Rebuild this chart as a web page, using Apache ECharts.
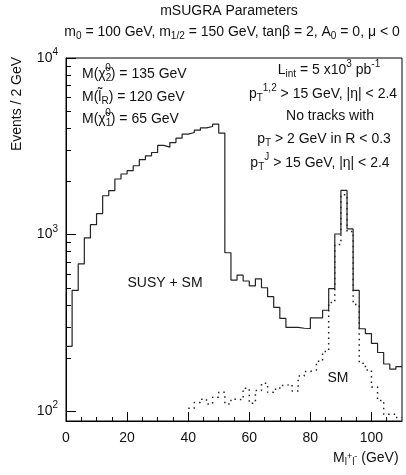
<!DOCTYPE html>
<html>
<head>
<meta charset="utf-8">
<script src="https://cdn.jsdelivr.net/npm/echarts@6/dist/echarts.min.js"></script>
<style>
  html, body { margin: 0; padding: 0; background: #fff; }
  #chart { width: 406px; height: 475px; }
</style>
</head>
<body>
<div id="chart"></div>
<script>
// histogram bins are 2 GeV wide, values given from the lower edge
var binWidth = 2;
var susyStart = 0;   // SUSY + SM, 0..110 GeV
var susySM = [233, 483, 683, 957, 1138, 1315, 1660, 1775, 2065, 2203,
  2300, 2454, 2655, 2793, 2917, 3199, 3126, 3321, 3514, 3706,
  3784, 3900, 4025, 4093, 4222, 3756, 789, 553, 589, 546,
  512, 562, 500, 445, 387, 335, 298, 298, 295, 294,
  338, 338, 373, 495, 1008, 1778, 1077, 483, 293, 275,
  242, 215, 185, 173, 179];
var smStart = 40;    // SM only, 40..110 GeV
var smOnly = [104, 112, 117, 110, 120, 128, 110, 117, 116, 135,
  111, 131, 144, 128, 133, 140, 142, 130, 158, 168,
  171, 192, 218, 413, 878, 1683, 1040, 402, 187, 171,
  137, 115, 96, 96, 92];

var xMajorTicks = [0, 20, 40, 60, 80, 100];
var xMinorTicks = [5, 10, 15, 25, 30, 35, 45, 50, 55, 65, 70, 75, 85, 90, 95, 105];
var yMajorTicks = [100, 1000, 10000];
var yMinorTicks = [200, 300, 400, 500, 600, 700, 800, 900,
  2000, 3000, 4000, 5000, 6000, 7000, 8000, 9000];

var ink = '#111';
var fontFam = '"Liberation Sans", Arial, Helvetica, sans-serif';

// step points: one per lower edge + closing point at the last upper edge
function toSteps(start, vals) {
  var pts = [];
  for (var i = 0; i < vals.length; i++) {
    pts.push([start + i * binWidth, vals[i]]);
  }
  pts.push([start + vals.length * binWidth, vals[vals.length - 1]]);
  return pts;
}

var rich = {
  sub: { fontSize: 10, fontFamily: fontFam, fill: ink, color: ink, padding: [8, 0, 0, 0] },
  sup: { fontSize: 10, fontFamily: fontFam, fill: ink, color: ink, padding: [0, 0, 11, 0] },
  supk: { fontSize: 10, fontFamily: fontFam, fill: ink, color: ink, padding: [0, 0, 11, -6] },
  subsup: { fontSize: 9, fontFamily: fontFam, fill: ink, color: ink, padding: [0, 0, 3, 0] }
};

function label(txt, x, y, align) {
  return {
    type: 'text', x: x, y: y, silent: true,
    style: {
      text: txt, rich: rich, fill: ink,
      fontSize: 14, fontFamily: fontFam,
      align: align || 'center', verticalAlign: 'middle'
    }
  };
}

var chart = echarts.init(document.getElementById('chart'), null, { renderer: 'canvas' });

chart.setOption({
  animation: false,
  backgroundColor: '#fff',
  grid: { left: 66, right: 4, top: 58, bottom: 54, show: true, borderColor: '#000', borderWidth: 1 },
  xAxis: [{
    type: 'value', min: 0, max: 110,
    axisLine: { lineStyle: { color: '#000', width: 1 } },
    axisTick: { inside: true, length: 9, customValues: xMajorTicks, lineStyle: { color: '#000' } },
    axisLabel: { customValues: xMajorTicks, margin: 10, color: ink, fontSize: 14, fontFamily: fontFam },
    splitLine: { show: false }
  }, {
    type: 'value', min: 0, max: 110, position: 'bottom',
    axisLine: { show: false },
    axisTick: { inside: true, length: 4, customValues: xMinorTicks, lineStyle: { color: '#000' } },
    axisLabel: { show: false },
    splitLine: { show: false }
  }],
  yAxis: [{
    type: 'log', logBase: 10, min: 88, max: 10000,
    axisLine: { show: true, lineStyle: { color: '#000', width: 1 } },
    axisTick: { show: true, inside: true, length: 10, customValues: yMajorTicks, lineStyle: { color: '#000' } },
    axisLabel: {
      customValues: yMajorTicks, margin: 8, color: ink, fontSize: 14, fontFamily: fontFam,
      formatter: function (v) { return '10{sup|' + Math.round(Math.log10(v)) + '}'; },
      rich: { sup: { fontSize: 10, fontFamily: fontFam, color: ink, padding: [0, 0, 11, 0] } }
    },
    splitLine: { show: false }
  }, {
    type: 'log', logBase: 10, min: 88, max: 10000, position: 'left',
    axisLine: { show: false },
    axisTick: { show: true, inside: true, length: 5, customValues: yMinorTicks, lineStyle: { color: '#000' } },
    axisLabel: { show: false },
    splitLine: { show: false }
  }],
  series: [{
    name: 'SUSY + SM', type: 'line', step: 'end',
    data: toSteps(susyStart, susySM),
    showSymbol: false, silent: true,
    lineStyle: { color: '#222', width: 1.2 }
  }, {
    name: 'SM', type: 'line', step: 'end',
    data: toSteps(smStart, smOnly),
    showSymbol: false, silent: true,
    lineStyle: { color: '#222', width: 1.5, type: [1.5, 4] }
  }],
  graphic: [
    label('mSUGRA Parameters', 229, 11),
    label('m{sub|0} = 100 GeV, m{sub|1/2} = 150 GeV, tanβ = 2, A{sub|0} = 0, μ < 0', 232, 32),
    label('M(χ̃{sub|2}{supk|0}) = 135 GeV', 82, 74, 'left'),
    label('M(l̃{sub|R}) = 120 GeV', 82, 97, 'left'),
    label('M(χ̃{sub|1}{supk|0}) = 65 GeV', 82, 119, 'left'),
    label('L{sub|int} = 5 x10{sup|3} pb{sup|-1}', 329, 70),
    label('p{sub|T}{sup|1,2} > 15 GeV, |η| < 2.4', 323, 94),
    label('No tracks with', 330, 116),
    label('p{sub|T} > 2 GeV in R < 0.3', 324, 139),
    label('p{sub|T}{sup|J} > 15 GeV, |η| < 2.4', 320, 163),
    label('SUSY + SM', 165, 283),
    label('SM', 338, 378),
    label('M{sub|l}{subsup|+}{sub|l}{subsup|-} (GeV)', 333, 458, 'left'),
    {
      type: 'text', x: 17, y: 104, rotation: Math.PI / 2, silent: true,
      style: { text: 'Events / 2 GeV', fill: ink, fontSize: 14, fontFamily: fontFam, align: 'center', verticalAlign: 'middle' }
    }
  ]
});
</script>
</body>
</html>
